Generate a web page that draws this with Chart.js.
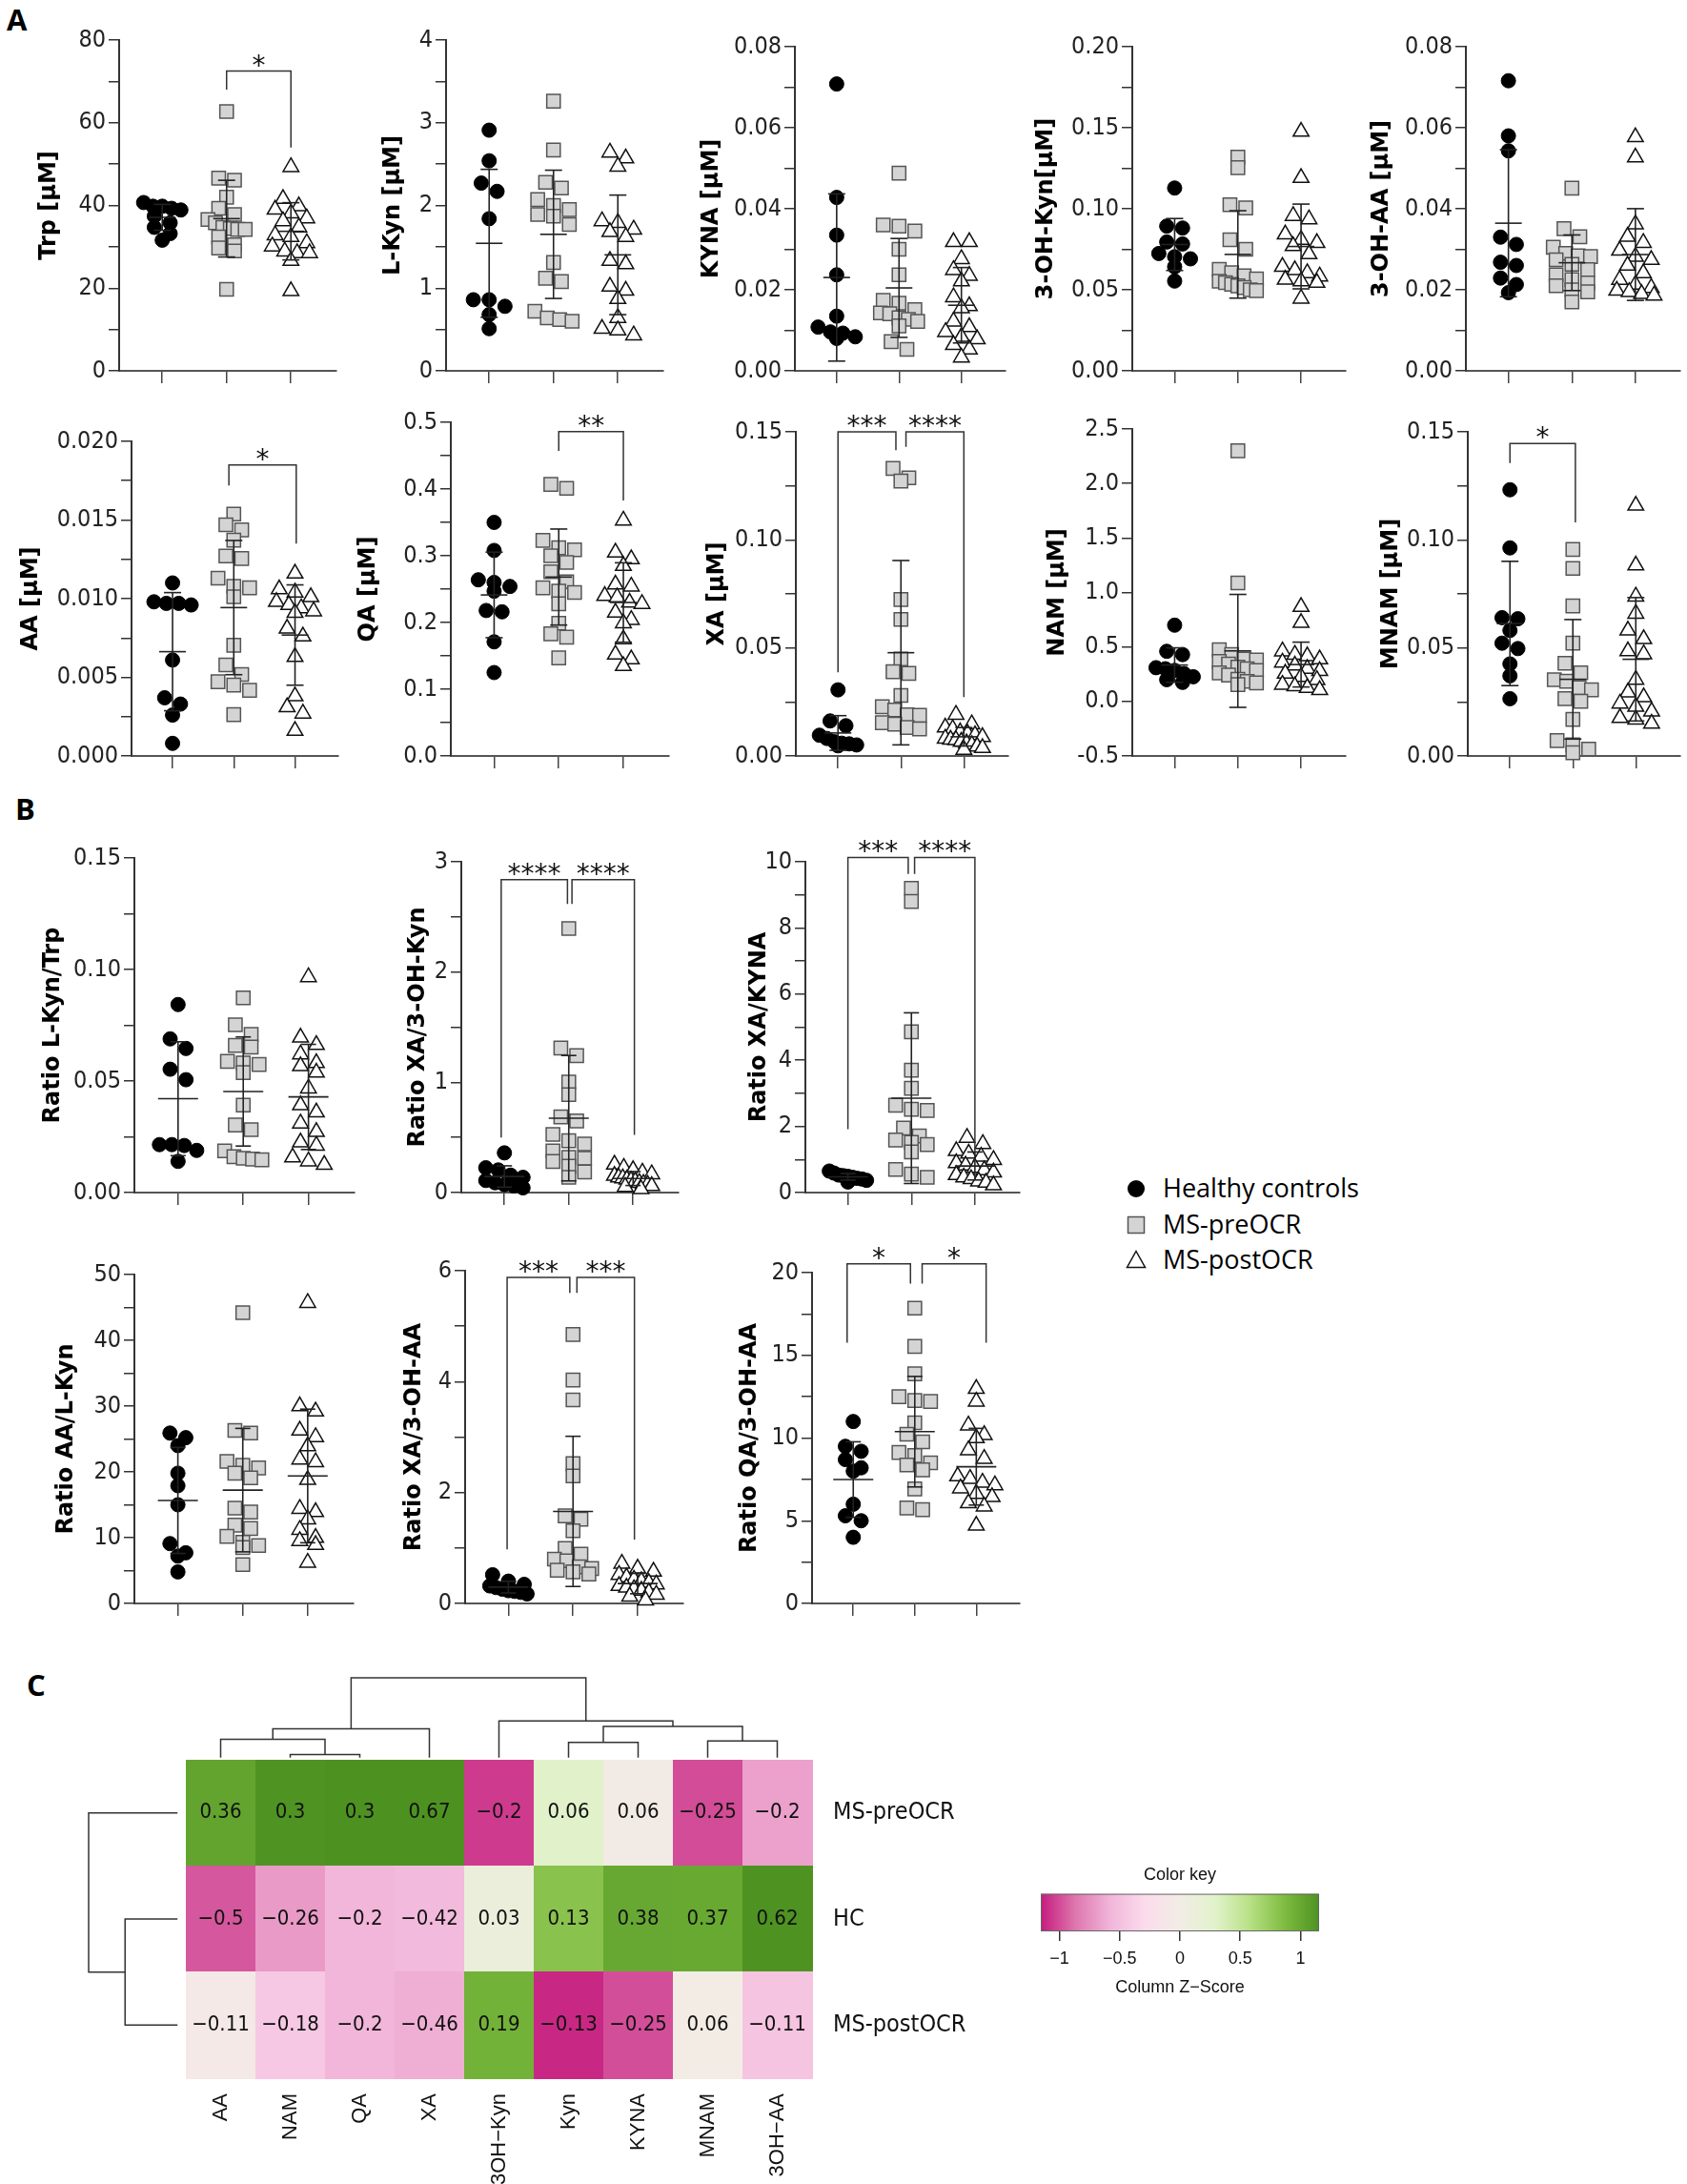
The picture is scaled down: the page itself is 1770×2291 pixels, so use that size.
<!DOCTYPE html>
<html lang="en">
<head>
  <meta charset="UTF-8">
  <title>Kynurenine pathway metabolites</title>
  <script src="https://cdn.jsdelivr.net/npm/chart.js"></script>
  <style>
    body { margin: 0; width: 1770px; height: 2291px; position: relative; overflow: hidden; background: #fff; }
    canvas { position: absolute; }
    .letter { position: absolute; font-family: "Open Sans", sans-serif; font-weight: 700; font-size: 31px; line-height: 31px; }
    .leg { position: absolute; font-family: "Open Sans", sans-serif; font-size: 27px; line-height: 30px; color: #000; white-space: nowrap; }
    svg { position: absolute; }
  </style>
</head>
<body>

  <div class="letter" style="left:7px;top:5px">A</div>
  <div class="letter" style="left:16px;top:833px">B</div>
  <div class="letter" style="left:28px;top:1752px">C</div>

  <!-- legend -->
  <svg style="left:1181px;top:1236px" width="22" height="22"><circle cx="11" cy="11" r="9" fill="#000"/></svg>
  <div class="leg" style="left:1220px;top:1231px">Healthy controls</div>
  <svg style="left:1182px;top:1275px" width="20" height="20"><rect x="1.5" y="1.5" width="17" height="17" fill="#d4d4d4" stroke="#555" stroke-width="1.5"/></svg>
  <div class="leg" style="left:1220px;top:1269px">MS-preOCR</div>
  <svg style="left:1181px;top:1311px" width="22" height="20"><polygon points="11,1.5 20.5,18.5 1.5,18.5" fill="#fff" stroke="#111" stroke-width="1.5"/></svg>
  <div class="leg" style="left:1220px;top:1306px">MS-postOCR</div>

  <script>
    // ---- A: metabolite concentrations (HC, MS-preOCR, MS-postOCR) ----
    const trpHC   = [40.7, 39.8, 39.8, 39.3, 38.9, 37.4, 35.8, 34.7, 33.2, 31.6];
    const trpPre  = [62.7, 46.6, 46.1, 42, 39.3, 37.8, 36.6, 35.8, 34.7, 34.4, 34.2, 34.2, 32.4, 30.5, 29.7, 29, 19.7];
    const trpPost = [49.3, 41.6, 39.8, 39, 38.1, 36.9, 36.2, 34.7, 32.8, 32.4, 30.9, 30.1, 28.9, 28.5, 28.5, 26.6, 19.3];

    const lkynHC   = [2.91, 2.54, 2.27, 2.17, 1.84, 0.86, 0.86, 0.78, 0.68, 0.51];
    const lkynPre  = [3.26, 2.67, 2.28, 2.21, 2.07, 2.0, 1.95, 1.89, 1.87, 1.77, 1.31, 1.12, 1.08, 0.72, 0.64, 0.62, 0.6];
    const lkynPost = [2.64, 2.57, 2.47, 1.81, 1.79, 1.71, 1.68, 1.62, 1.33, 1.29, 1.02, 0.97, 0.87, 0.64, 0.51, 0.49, 0.43];

    const kynaHC   = [0.0708, 0.0428, 0.0335, 0.0237, 0.0135, 0.0108, 0.0096, 0.0093, 0.0084, 0.008];
    const kynaPre  = [0.0488, 0.036, 0.0357, 0.0345, 0.03, 0.0237, 0.0174, 0.0167, 0.0151, 0.0143, 0.0141, 0.0131, 0.0127, 0.0122, 0.0111, 0.0072, 0.0053];
    const kynaPost = [0.0318, 0.0318, 0.0276, 0.0249, 0.0235, 0.0221, 0.0182, 0.016, 0.0155, 0.0122, 0.0108, 0.0096, 0.0084, 0.0078, 0.0064, 0.0053, 0.0033];

    const ohkynHC   = [0.1128, 0.0893, 0.0881, 0.0795, 0.0783, 0.0724, 0.0704, 0.0691, 0.0642, 0.0554];
    const ohkynPre  = [0.1319, 0.1254, 0.1025, 0.1005, 0.0809, 0.075, 0.0626, 0.0606, 0.0587, 0.0567, 0.0553, 0.0544, 0.0534, 0.0524, 0.0514, 0.05, 0.0495];
    const ohkynPost = [0.1476, 0.1191, 0.0956, 0.0936, 0.0842, 0.0809, 0.0789, 0.077, 0.072, 0.0642, 0.0622, 0.0603, 0.0583, 0.0563, 0.0553, 0.0544, 0.0446];

    const ohaaHC   = [0.0716, 0.058, 0.0543, 0.033, 0.0312, 0.0268, 0.026, 0.0229, 0.0213, 0.0193];
    const ohaaPre  = [0.0451, 0.0351, 0.0331, 0.0305, 0.029, 0.0284, 0.0282, 0.0274, 0.0263, 0.025, 0.0237, 0.0225, 0.0217, 0.021, 0.02, 0.0195, 0.017];
    const ohaaPost = [0.0577, 0.0527, 0.0362, 0.0331, 0.0316, 0.0297, 0.0282, 0.0274, 0.026, 0.0241, 0.0225, 0.0213, 0.0205, 0.0198, 0.0195, 0.019, 0.0186];

    const aaHC   = [0.011, 0.0098, 0.0097, 0.0096, 0.0097, 0.0061, 0.0037, 0.0033, 0.0026, 0.0008];
    const aaPre  = [0.01538, 0.0147, 0.01437, 0.01372, 0.01271, 0.01255, 0.0113, 0.01079, 0.01069, 0.01012, 0.00704, 0.00579, 0.00518, 0.00472, 0.00451, 0.00417, 0.00263];
    const aaPost = [0.0116, 0.0106, 0.0104, 0.0101, 0.0098, 0.0096, 0.0094, 0.0092, 0.0091, 0.0081, 0.0076, 0.0063, 0.0038, 0.0031, 0.0027, 0.0016];

    const qaHC   = [0.35, 0.308, 0.264, 0.26, 0.254, 0.247, 0.216, 0.218, 0.171, 0.125];
    const qaPre  = [0.407, 0.401, 0.323, 0.312, 0.309, 0.3, 0.29, 0.276, 0.261, 0.252, 0.247, 0.245, 0.228, 0.199, 0.183, 0.178, 0.147];
    const qaPost = [0.353, 0.305, 0.295, 0.285, 0.257, 0.254, 0.24, 0.238, 0.23, 0.228, 0.215, 0.204, 0.199, 0.175, 0.152, 0.145, 0.135];

    const xaHC   = [0.0306, 0.0162, 0.014, 0.0096, 0.0081, 0.0066, 0.0059, 0.0056, 0.0051, 0.0047];
    const xaPre  = [0.1331, 0.1287, 0.1272, 0.0724, 0.0632, 0.0449, 0.0382, 0.039, 0.028, 0.0228, 0.0213, 0.0191, 0.0188, 0.0154, 0.0147, 0.0132, 0.0125];
    const xaPost = [0.0191, 0.0147, 0.0132, 0.0125, 0.011, 0.0103, 0.0096, 0.0088, 0.0081, 0.0076, 0.0074, 0.0066, 0.0059, 0.0051, 0.0044, 0.0037, 0.0029];

    const namHC   = [0.7, 0.46, 0.43, 0.31, 0.3, 0.285, 0.256, 0.227, 0.2, 0.175];
    const namPre  = [2.3, 1.087, 0.475, 0.43, 0.39, 0.38, 0.367, 0.344, 0.315, 0.3, 0.285, 0.262, 0.242, 0.204, 0.184, 0.17, 0.155];
    const namPost = [0.868, 0.722, 0.46, 0.43, 0.416, 0.387, 0.358, 0.33, 0.3, 0.28, 0.256, 0.227, 0.198, 0.154, 0.14, 0.125, 0.105];

    const mnamHC   = [0.1232, 0.0963, 0.064, 0.0635, 0.0581, 0.0522, 0.0497, 0.0426, 0.0371, 0.0265];
    const mnamPre  = [0.0956, 0.0868, 0.0694, 0.0522, 0.0429, 0.0385, 0.0353, 0.0346, 0.0316, 0.0306, 0.0265, 0.0253, 0.0169, 0.0071, 0.0051, 0.0032, 0.0015];
    const mnamPost = [0.1159, 0.0882, 0.0738, 0.0659, 0.0581, 0.0541, 0.0485, 0.0471, 0.0353, 0.0294, 0.0272, 0.0243, 0.0228, 0.0206, 0.0176, 0.0169, 0.015];

    // ---- B: ratios ----
    const kynTrpHC   = [0.0843, 0.0689, 0.0646, 0.0553, 0.0506, 0.0215, 0.0215, 0.0211, 0.0189, 0.014];
    const kynTrpPre  = [0.0873, 0.0752, 0.0709, 0.066, 0.0652, 0.0588, 0.0581, 0.0574, 0.0538, 0.0392, 0.0303, 0.0282, 0.0187, 0.0161, 0.0154, 0.015, 0.0147];
    const kynTrpPost = [0.0966, 0.0695, 0.0662, 0.062, 0.0581, 0.0567, 0.0538, 0.0467, 0.0392, 0.036, 0.031, 0.0272, 0.0225, 0.0211, 0.0158, 0.014, 0.0125];

    const xaOhkynHC   = [0.36, 0.225, 0.205, 0.158, 0.138, 0.11, 0.089, 0.072, 0.06, 0.043];
    const xaOhkynPre  = [2.395, 1.311, 1.242, 1.003, 0.888, 0.686, 0.649, 0.527, 0.47, 0.441, 0.378, 0.32, 0.311, 0.282, 0.239, 0.187, 0.138];
    const xaOhkynPost = [0.254, 0.225, 0.205, 0.182, 0.167, 0.153, 0.138, 0.13, 0.118, 0.11, 0.1, 0.089, 0.081, 0.072, 0.06, 0.052, 0.032];

    const xaKynaHC   = [0.65, 0.59, 0.53, 0.51, 0.49, 0.46, 0.43, 0.41, 0.37, 0.32];
    const xaKynaPre  = [9.2, 8.8, 4.86, 3.7, 3.15, 2.64, 2.52, 2.48, 1.95, 1.71, 1.59, 1.52, 1.45, 1.23, 0.7, 0.56, 0.46];
    const xaKynaPost = [1.66, 1.47, 1.26, 1.18, 1.09, 0.99, 0.89, 0.82, 0.75, 0.68, 0.61, 0.53, 0.46, 0.41, 0.34, 0.3, 0.22];

    const aaKynHC   = [25.9, 25.2, 24, 19.8, 17.9, 15, 9.1, 7.7, 7.2, 4.8];
    const aaKynPre  = [44.2, 26.3, 25.9, 21.6, 21, 20.6, 19.8, 19.1, 14.5, 13.9, 11.9, 11.4, 10.2, 9.3, 8.8, 8.5, 5.9];
    const aaKynPost = [45.7, 30, 29.2, 26.3, 25.3, 23.9, 21.9, 21.5, 18.8, 14.4, 13.9, 12.8, 11.2, 10, 9.5, 8.9, 6.2];

    const xaOhaaHC   = [0.517, 0.402, 0.344, 0.316, 0.287, 0.258, 0.23, 0.218, 0.2, 0.172];
    const xaOhaaPre  = [4.85, 4.03, 3.67, 2.52, 2.3, 1.58, 1.52, 1.31, 0.99, 0.89, 0.8, 0.77, 0.66, 0.63, 0.6, 0.57, 0.53];
    const xaOhaaPost = [0.718, 0.631, 0.574, 0.517, 0.471, 0.43, 0.402, 0.373, 0.344, 0.316, 0.287, 0.258, 0.23, 0.2, 0.16, 0.126, 0.057];

    const qaOhaaHC   = [11.0, 9.5, 9.2, 8.7, 8.2, 8.0, 6.0, 5.3, 5.0, 4.0];
    const qaOhaaPre  = [17.85, 15.54, 13.88, 12.5, 12.27, 12.21, 10.92, 10.23, 9.77, 9.13, 8.94, 8.5, 8.37, 8.08, 6.92, 5.77, 5.67];
    const qaOhaaPost = [12.98, 12.21, 10.77, 10.19, 10.0, 9.27, 8.75, 7.69, 7.54, 7.31, 7.15, 6.96, 6.63, 6.44, 6.06, 5.87, 4.71];

    // significance brackets: [from group, to group, bar height, left leg end, right leg end, label]
    const trpSig     = [[2, 3, 72.5, 68, 54, '*']];
    const aaSig      = [[1.92, 3.02, 0.0185, 0.0172, 0.0135, '*']];
    const qaSig      = [[2, 3, 0.486, 0.457, 0.383, '**']];
    const xaSig      = [[1, 1.92, 0.15, 0.0387, 0.1415, '***'], [2.08, 3, 0.15, 0.143, 0.0272, '****']];
    const mnamSig    = [[1, 2.04, 0.1446, 0.1356, 0.1081, '*']];
    const xaOhkynSig = [[0.95, 1.98, 2.838, 0.499, 2.617, '****'], [2.05, 3.02, 2.838, 2.617, 0.522, '****']];
    const xaKynaSig  = [[1, 1.95, 10.13, 1.92, 9.63, '***'], [2.05, 3, 10.13, 9.63, 1.23, '****']];
    const xaOhaaSig  = [[0.98, 1.95, 5.88, 0.976, 5.6, '***'], [2.06, 2.95, 5.88, 5.6, 1.15, '***']];
    const qaOhaaSig  = [[0.9, 1.93, 20.54, 15.77, 19.33, '*'], [2.12, 3.16, 20.54, 19.33, 15.77, '*']];

    // ---- C: heatmap ----
    const hmCols   = ['AA', 'NAM', 'QA', 'XA', '3OH\u2212Kyn', 'Kyn', 'KYNA', 'MNAM', '3OH\u2212AA'];
    const hmRows   = ['MS-preOCR', 'HC', 'MS-postOCR'];
    const hmPre    = [0.36, 0.3, 0.3, 0.67, -0.2, 0.06, 0.06, -0.25, -0.2];
    const hmHC     = [-0.5, -0.26, -0.2, -0.42, 0.03, 0.13, 0.38, 0.37, 0.62];
    const hmPost   = [-0.11, -0.18, -0.2, -0.46, 0.19, -0.13, -0.25, 0.06, -0.11];
    // dendrograms (hclust style: negative = leaf, positive = earlier merge), heights relative to the root
    const colMerge  = [[-2, -3], [-1, 1], [2, -4], [-6, -7], [-8, -9], [4, 5], [-5, 6], [3, 7]];
    const colHeight = [0.04, 0.23, 0.36, 0.19, 0.21, 0.39, 0.46, 1.0];
    const rowMerge  = [[-2, -3], [-1, 1]];
    const rowHeight = [0.59, 1.0];
    const keyTicks  = [-1, -0.5, 0, 0.5, 1];

    // -----------------------------------------------------------------
    const NARROW = '"Liberation Sans Narrow", "DejaVu Sans Condensed", "Arial Narrow", "Liberation Sans", sans-serif';
    const BOLD = '"DejaVu Sans", Verdana, sans-serif';
    Chart.defaults.font.family = NARROW;
    Chart.defaults.color = '#222';

    const mean = a => a.reduce((s, v) => s + v, 0) / a.length;
    const sd = a => { const m = mean(a); return Math.sqrt(a.reduce((s, v) => s + (v - m) ** 2, 0) / (a.length - 1)); };

    const styles = [
      { shape: 'circle',   r: 7.5, fill: '#000',    stroke: '#000', bw: 1 },
      { shape: 'rect',     r: 10,  fill: '#d4d4d4', stroke: '#555', bw: 1.5 },
      { shape: 'triangle', r: 9.5, fill: '#fff',    stroke: '#111', bw: 1.5 }
    ];

    // panel layout: axis x, axis end, top tick y, bottom tick y (page pixels), title gap
    const panels = [
      { t: 'Trp [µM]',      g: [trpHC, trpPre, trpPost],       min: 0, max: 80,   step: 10,     major: 20,    dec: 0, sig: trpSig,  ax: 125,  ex: 358,  ty: 42,  by: 389, gap: 73 },
      { t: 'L-Kyn [µM]',    g: [lkynHC, lkynPre, lkynPost],    min: 0, max: 4,    step: 0.5,    major: 1,     dec: 0, sig: [],      ax: 468,  ex: 701,  ty: 42,  by: 389, gap: 55 },
      { t: 'KYNA [µM]',     g: [kynaHC, kynaPre, kynaPost],    min: 0, max: 0.08, step: 0.005,  major: 0.02,  dec: 2, sig: [],      ax: 834,  ex: 1060, ty: 49,  by: 389, gap: 87 },
      { t: '3-OH-Kyn[µM]',  g: [ohkynHC, ohkynPre, ohkynPost], min: 0, max: 0.2,  step: 0.0125, major: 0.05,  dec: 2, sig: [],      ax: 1188, ex: 1417, ty: 49,  by: 389, gap: 90 },
      { t: '3-OH-AA [µM]',  g: [ohaaHC, ohaaPre, ohaaPost],    min: 0, max: 0.08, step: 0.005,  major: 0.02,  dec: 2, sig: [],      ax: 1538, ex: 1768, ty: 49,  by: 389, gap: 88 },
      { t: 'AA [µM]',       g: [aaHC, aaPre, aaPost],          min: 0, max: 0.02, step: 0.00125,major: 0.005, dec: 3, sig: aaSig,   ax: 138,  ex: 360,  ty: 463, by: 793, gap: 105 },
      { t: 'QA [µM]',       g: [qaHC, qaPre, qaPost],          min: 0, max: 0.5,  step: 0.025,  major: 0.1,   dec: 1, sig: qaSig,   ax: 473,  ex: 707,  ty: 443, by: 793, gap: 86 },
      { t: 'XA [µM]',       g: [xaHC, xaPre, xaPost],          min: 0, max: 0.15, step: 0.0125, major: 0.05,  dec: 2, sig: xaSig,   ax: 835,  ex: 1063, ty: 453, by: 793, gap: 82 },
      { t: 'NAM [µM]',      g: [namHC, namPre, namPost],       min: -0.5, max: 2.5, step: 0.25, major: 0.5,   dec: 1, sig: [],      ax: 1188, ex: 1417, ty: 450, by: 793, gap: 78 },
      { t: 'MNAM [µM]',     g: [mnamHC, mnamPre, mnamPost],    min: 0, max: 0.15, step: 0.0125, major: 0.05,  dec: 2, sig: mnamSig, ax: 1540, ex: 1768, ty: 453, by: 793, gap: 80 },
      { t: 'Ratio L-Kyn/Trp',   g: [kynTrpHC, kynTrpPre, kynTrpPost],    min: 0, max: 0.15, step: 0.0125, major: 0.05, dec: 2, sig: [],         ax: 141, ex: 377,  ty: 900,  by: 1251, gap: 85, wide: true },
      { t: 'Ratio XA/3-OH-Kyn', g: [xaOhkynHC, xaOhkynPre, xaOhkynPost], min: 0, max: 3,    step: 0.25,   major: 1,    dec: 0, sig: xaOhkynSig, ax: 484, ex: 717,  ty: 904,  by: 1251, gap: 45, wide: true },
      { t: 'Ratio XA/KYNA',     g: [xaKynaHC, xaKynaPre, xaKynaPost],    min: 0, max: 10,   step: 1,      major: 2,    dec: 0, sig: xaKynaSig,  ax: 845, ex: 1075, ty: 904,  by: 1251, gap: 48, wide: true },
      { t: 'Ratio AA/L-Kyn',    g: [aaKynHC, aaKynPre, aaKynPost],       min: 0, max: 50,   step: 2.5,    major: 10,   dec: 0, sig: [],         ax: 141, ex: 376,  ty: 1337, by: 1682, gap: 71, wide: true },
      { t: 'Ratio XA/3-OH-AA',  g: [xaOhaaHC, xaOhaaPre, xaOhaaPost],    min: 0, max: 6,    step: 0.5,    major: 2,    dec: 0, sig: xaOhaaSig,  ax: 488, ex: 722,  ty: 1333, by: 1682, gap: 53, wide: true },
      { t: 'Ratio QA/3-OH-AA',  g: [qaOhaaHC, qaOhaaPre, qaOhaaPost],    min: 0, max: 20,   step: 1.25,   major: 5,    dec: 0, sig: qaOhaaSig,  ax: 852, ex: 1075, ty: 1335, by: 1682, gap: 65, wide: true }
    ];

    const X_MIN = 0.33, X_MAX = 3.70;
    const LEFT_W = 130, PAD_TOP = 64, X_AXIS_H = 16, TITLE_SIZE = 24;

    // Prism-like scatter: points whose pixel heights fall in the same band share a row
    function scatterRows(vals, toPix, band, spacing, maxHalf) {
      const order = vals.map((v, i) => i).sort((a, b) => vals[b] - vals[a]);
      const out = new Array(vals.length);
      let row = [];
      const flush = () => {
        const n = row.length;
        const sp = n > 1 ? Math.min(spacing, 2 * maxHalf / (n - 1)) : 0;
        row.forEach((idx, k) => { out[idx] = (k - (n - 1) / 2) * sp; });
        row = [];
      };
      order.forEach(i => {
        if (row.length && Math.abs(toPix(vals[row[0]]) - toPix(vals[i])) > band) flush();
        row.push(i);
      });
      flush();
      return out;
    }

    function makePanel(p) {
      const w = LEFT_W + (p.ex - p.ax) + 6;
      const h = PAD_TOP + (p.by - p.ty) + X_AXIS_H + 2;
      const cv = document.createElement('canvas');
      cv.width = w; cv.height = h;
      cv.style.left = (p.ax - LEFT_W) + 'px';
      cv.style.top = (p.ty - PAD_TOP) + 'px';
      document.body.appendChild(cv);

      const plotH = p.by - p.ty;
      const pxPerCat = (p.ex - p.ax) / (X_MAX - X_MIN);
      const toPix = v => (v - p.min) / (p.max - p.min) * plotH;
      const tickVals = [];
      for (let i = 0; i <= Math.round((p.max - p.min) / p.step); i++) tickVals.push(+(p.min + i * p.step).toFixed(6));
      const isMajor = v => Math.abs((v - p.min) / p.major - Math.round((v - p.min) / p.major)) < 1e-6;
      const meanW = p.wide ? 42 : 28, capW = p.wide ? 16 : 18;

      const datasets = p.g.map((vals, gi) => {
        const offs = scatterRows(vals, toPix, 11, 17, 20);
        const s = styles[gi];
        return {
          data: vals.map((v, i) => ({ x: gi + 1 + offs[i] / pxPerCat, y: v })),
          pointStyle: s.shape, pointRadius: s.r, pointHoverRadius: s.r,
          backgroundColor: s.fill, borderColor: s.stroke, borderWidth: s.bw,
          showLine: false, clip: false
        };
      });

      const extras = {
        id: 'prismExtras',
        afterDatasetsDraw(chart) {
          const { ctx, scales: { x, y } } = chart;
          ctx.save();
          ctx.strokeStyle = '#222';
          ctx.lineWidth = 1.6;
          const seg = (x1, y1, x2, y2) => { ctx.beginPath(); ctx.moveTo(x1, y1); ctx.lineTo(x2, y2); ctx.stroke(); };
          p.g.forEach((vals, gi) => {
            const m = mean(vals), s = sd(vals);
            const cx = x.getPixelForValue(gi + 1);
            const yt = y.getPixelForValue(m + s), yb = y.getPixelForValue(m - s), ym = y.getPixelForValue(m);
            seg(cx, yt, cx, yb);
            seg(cx - capW / 2, yt, cx + capW / 2, yt);
            seg(cx - capW / 2, yb, cx + capW / 2, yb);
            seg(cx - meanW / 2, ym, cx + meanW / 2, ym);
          });
          ctx.strokeStyle = '#333';
          ctx.lineWidth = 1.5;
          ctx.fillStyle = '#111';
          ctx.font = '28px "DejaVu Sans", sans-serif';
          ctx.textAlign = 'center';
          ctx.textBaseline = 'alphabetic';
          p.sig.forEach(([g1, g2, top, l, r, label]) => {
            const x1 = x.getPixelForValue(g1), x2 = x.getPixelForValue(g2), yt = y.getPixelForValue(top);
            ctx.beginPath();
            ctx.moveTo(x1, y.getPixelForValue(l));
            ctx.lineTo(x1, yt);
            ctx.lineTo(x2, yt);
            ctx.lineTo(x2, y.getPixelForValue(r));
            ctx.stroke();
            ctx.fillText(label, (x1 + x2) / 2, yt + 3);
          });
          ctx.restore();
        }
      };

      new Chart(cv, {
        type: 'scatter',
        data: { datasets },
        options: {
          responsive: false, animation: false, devicePixelRatio: 1,
          layout: { padding: { top: PAD_TOP, right: 6, bottom: 2, left: 0 } },
          plugins: { legend: { display: false }, tooltip: { enabled: false } },
          scales: {
            x: {
              type: 'linear', min: X_MIN, max: X_MAX,
              afterBuildTicks: s => { s.ticks = [1, 2, 3].map(v => ({ value: v })); },
              afterFit: s => { s.height = X_AXIS_H; },
              ticks: { display: false },
              grid: { display: true, drawOnChartArea: false, tickLength: 13, color: '#444', lineWidth: 1.5 },
              border: { display: true, color: '#555', width: 2 }
            },
            y: {
              type: 'linear', min: p.min, max: p.max,
              afterBuildTicks: s => { s.ticks = tickVals.map(v => ({ value: v })); },
              afterFit: s => { s.width = LEFT_W; },
              ticks: {
                font: { size: 25 }, color: '#222', padding: 3,
                callback: v => isMajor(v) ? (+v).toFixed(p.dec) : ''
              },
              grid: { display: true, drawOnChartArea: false, tickLength: 11, color: '#333', lineWidth: 1.5 },
              border: { display: true, color: '#333', width: 2 },
              title: {
                display: true, text: p.t, color: '#000',
                font: { family: BOLD, size: TITLE_SIZE, weight: 'bold', lineHeight: 1 },
                padding: { top: Math.max(0, LEFT_W - p.gap - TITLE_SIZE / 2), bottom: 0 }
              }
            }
          }
        },
        plugins: [extras]
      });
    }

    panels.forEach(makePanel);

    // ---------------- heatmap (C) ----------------
    const hmValues = [hmPre, hmHC, hmPost];
    const keyStops = [
      [-1.155, '#c51b7d'], [-0.866, '#de77ae'], [-0.577, '#f1b6da'], [-0.289, '#fbdcec'],
      [0, '#f2ece5'], [0.289, '#e2f2cc'], [0.577, '#b8e186'], [0.866, '#7fbc41'], [1.155, '#4d9221']
    ];
    const hex = h => [1, 3, 5].map(i => parseInt(h.slice(i, i + 2), 16));
    function zColor(z) {
      z = Math.max(keyStops[0][0], Math.min(keyStops[keyStops.length - 1][0], z));
      for (let i = 1; i < keyStops.length; i++) {
        if (z <= keyStops[i][0]) {
          const [z0, c0] = keyStops[i - 1], [z1, c1] = keyStops[i];
          const t = (z - z0) / (z1 - z0), a = hex(c0), b = hex(c1);
          return 'rgb(' + a.map((v, k) => Math.round(v + (b[k] - v) * t)).join(',') + ')';
        }
      }
      return keyStops[keyStops.length - 1][1];
    }
    function colZ(rows) {
      return rows.map(r => r.map((v, c) => {
        const col = rows.map(rr => rr[c]);
        return (v - mean(col)) / sd(col);
      }));
    }
    const fmt = v => String(v).replace('-', '\u2212');

    // page geometry of the heatmap block
    const HM = { left: 0, top: 1700, w: 1040, h: 591, areaL: 93, areaR: 852, areaT: 1760, areaB: 2180, cellL: 195, cellT: 1846 };
    const cellW = (HM.areaR - HM.cellL) / hmCols.length;
    const cellH = (HM.areaB - HM.cellT) / hmRows.length;
    const hmXmin = -(HM.cellL - HM.areaL) / cellW;
    const hmYmin = -(HM.cellT - HM.areaT) / cellH;
    const colLeafY = -0.02, rowLeafX = -0.12;

    function dendroNodes(merge, height) {
      const nodes = [];
      const pos = k => k < 0 ? { p: -k - 1 + 0.5, h: 0 } : nodes[k - 1];
      merge.forEach(([a, b], i) => {
        const na = pos(a), nb = pos(b);
        nodes.push({ p: (na.p + nb.p) / 2, h: height[i], a: na, b: nb });
      });
      return nodes;
    }

    const hmCanvas = document.createElement('canvas');
    hmCanvas.width = HM.w; hmCanvas.height = HM.h;
    hmCanvas.style.left = HM.left + 'px'; hmCanvas.style.top = HM.top + 'px';
    document.body.appendChild(hmCanvas);

    const heatPlugin = {
      id: 'heat',
      afterDatasetsDraw(chart) {
        const { ctx, scales: { x, y } } = chart;
        const z = colZ(hmValues);
        ctx.save();
        // cells
        hmValues.forEach((row, r) => row.forEach((v, c) => {
          const x0 = x.getPixelForValue(c), x1 = x.getPixelForValue(c + 1);
          const y0 = y.getPixelForValue(r), y1 = y.getPixelForValue(r + 1);
          ctx.fillStyle = zColor(z[r][c]);
          ctx.fillRect(Math.floor(x0), Math.floor(y0), Math.ceil(x1 - x0) + 1, Math.ceil(y1 - y0) + 1);
        }));
        ctx.fillStyle = '#111';
        ctx.font = '22px ' + NARROW;
        ctx.textAlign = 'center';
        ctx.textBaseline = 'middle';
        hmValues.forEach((row, r) => row.forEach((v, c) => {
          ctx.fillText(fmt(v), x.getPixelForValue(c + 0.5), y.getPixelForValue(r + 0.5));
        }));
        // row labels
        ctx.textAlign = 'left';
        ctx.font = '25px ' + NARROW;
        hmRows.forEach((lab, r) => ctx.fillText(lab, x.getPixelForValue(hmCols.length) + 22, y.getPixelForValue(r + 0.5)));
        // column labels (rotated)
        ctx.font = '22px "Liberation Sans", Arial, sans-serif';
        ctx.textAlign = 'right';
        hmCols.forEach((lab, c) => {
          ctx.save();
          ctx.translate(x.getPixelForValue(c + 0.5), y.getPixelForValue(hmRows.length) + 16);
          ctx.rotate(-Math.PI / 2);
          ctx.fillText(lab, 0, 0);
          ctx.restore();
        });
        // dendrograms
        ctx.strokeStyle = '#333';
        ctx.lineWidth = 1.5;
        const colPt = (pp, h) => [x.getPixelForValue(pp), y.getPixelForValue(colLeafY + h * (hmYmin - colLeafY))];
        const rowPt = (pp, h) => [x.getPixelForValue(rowLeafX + h * (hmXmin - rowLeafX)), y.getPixelForValue(pp)];
        const drawTree = (nodes, pt) => nodes.forEach(n => {
          ctx.beginPath();
          ctx.moveTo(...pt(n.a.p, n.a.h));
          ctx.lineTo(...pt(n.a.p, n.h));
          ctx.lineTo(...pt(n.b.p, n.h));
          ctx.lineTo(...pt(n.b.p, n.b.h));
          ctx.stroke();
        });
        drawTree(dendroNodes(colMerge, colHeight), colPt);
        drawTree(dendroNodes(rowMerge, rowHeight), rowPt);
        ctx.restore();
      }
    };

    new Chart(hmCanvas, {
      type: 'scatter',
      data: { datasets: [] },
      options: {
        responsive: false, animation: false, devicePixelRatio: 1,
        layout: { padding: { left: HM.areaL - HM.left, right: HM.left + HM.w - HM.areaR, top: HM.areaT - HM.top, bottom: HM.top + HM.h - HM.areaB } },
        plugins: { legend: { display: false }, tooltip: { enabled: false } },
        scales: {
          x: { type: 'linear', display: false, min: hmXmin, max: hmCols.length },
          y: { type: 'linear', display: false, min: hmYmin, max: hmRows.length, reverse: true }
        }
      },
      plugins: [heatPlugin]
    });

    // ---------------- colour key ----------------
    const keyCanvas = document.createElement('canvas');
    keyCanvas.width = 400; keyCanvas.height = 160;
    keyCanvas.style.left = '1040px'; keyCanvas.style.top = '1940px';
    document.body.appendChild(keyCanvas);

    const keyPlugin = {
      id: 'keyBar',
      beforeDatasetsDraw(chart) {
        const { ctx, chartArea: a, scales: { x } } = chart;
        const zMin = keyStops[0][0], zMax = keyStops[keyStops.length - 1][0];
        const grad = ctx.createLinearGradient(x.getPixelForValue(zMin), 0, x.getPixelForValue(zMax), 0);
        keyStops.forEach(([z, c]) => grad.addColorStop((z - zMin) / (zMax - zMin), c));
        ctx.save();
        ctx.fillStyle = grad;
        ctx.fillRect(a.left, a.top, a.right - a.left, a.bottom - a.top);
        ctx.strokeStyle = '#666';
        ctx.lineWidth = 1;
        ctx.strokeRect(a.left + 0.5, a.top + 0.5, a.right - a.left - 1, a.bottom - a.top - 1);
        ctx.restore();
      }
    };

    new Chart(keyCanvas, {
      type: 'scatter',
      data: { datasets: [] },
      options: {
        responsive: false, animation: false, devicePixelRatio: 1,
        layout: { padding: { left: 52, right: 56, top: 0, bottom: 0 } },
        plugins: {
          legend: { display: false }, tooltip: { enabled: false },
          title: { display: true, text: 'Color key', color: '#111', font: { family: '"Liberation Sans", Arial, sans-serif', size: 18, weight: 'normal', lineHeight: 1.2 }, padding: { top: 16, bottom: 9 } }
        },
        scales: {
          x: {
            type: 'linear', min: keyStops[0][0], max: keyStops[keyStops.length - 1][0],
            afterBuildTicks: s => { s.ticks = keyTicks.map(v => ({ value: v })); },
            afterFit: s => { s.height = 74; },
            ticks: { font: { family: '"Liberation Sans", Arial, sans-serif', size: 18 }, color: '#111', padding: 8, callback: v => fmt(v) },
            grid: { display: true, drawOnChartArea: false, tickLength: 10, color: '#333', lineWidth: 1.5 },
            border: { display: false },
            title: { display: true, text: 'Column Z\u2212Score', color: '#111', font: { family: '"Liberation Sans", Arial, sans-serif', size: 18, lineHeight: 1.2 }, padding: { top: 0, bottom: 4 } }
          },
          y: { type: 'linear', display: false, min: 0, max: 1 }
        }
      },
      plugins: [keyPlugin]
    });
  </script>
</body>
</html>
